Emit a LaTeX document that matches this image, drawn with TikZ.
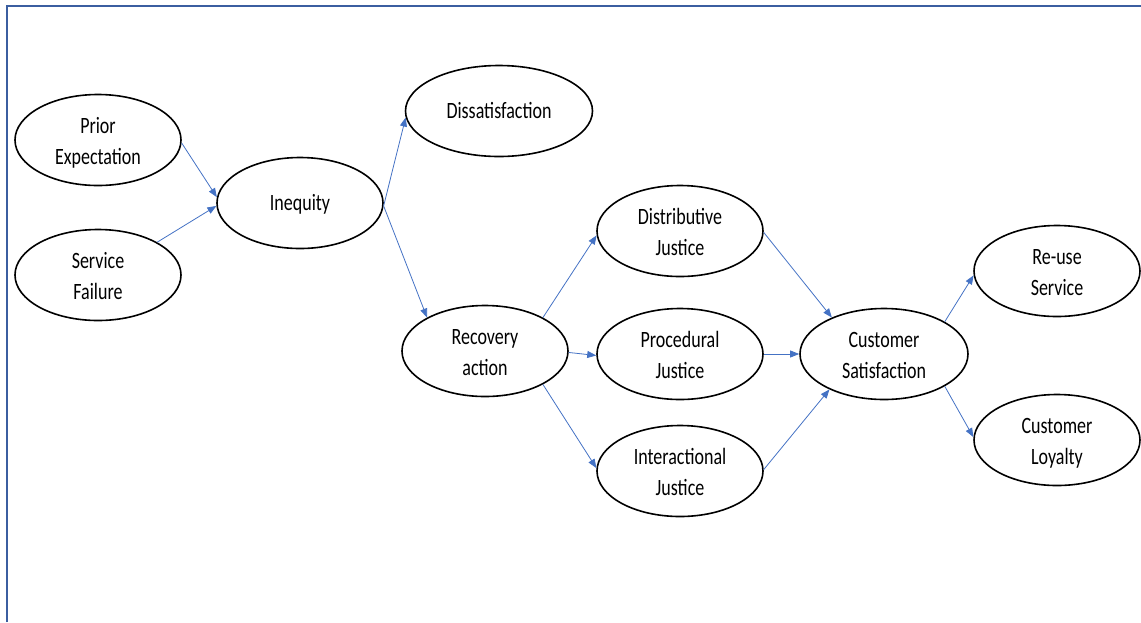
\documentclass[tikz,border=0pt]{standalone}
\usepackage{fontspec}
\setmainfont{Carlito}
\usetikzlibrary{shapes.geometric,arrows.meta}
\definecolor{arrowblue}{RGB}{68,114,196}
\definecolor{frameblue}{RGB}{59,94,160}
\newcommand{\lbl}[2][-3pt]{\raisebox{#1}[\height][\depth]{\scalebox{1}[1.3]{\begin{tabular}{@{}c@{}}#2\end{tabular}}}}
\tikzset{
  ell/.style={ellipse, draw=black, line width=1.6pt, minimum width=166pt, minimum height=91pt, inner sep=0pt, font=\fontsize{18}{24}\selectfont},
  arr/.style={draw=arrowblue, line width=0.8pt, -{Triangle[length=9pt,width=7pt]}}
}
\begin{document}
\begin{tikzpicture}[x=1pt,y=-1pt]
\useasboundingbox (0,0) rectangle (1141,622);
\draw[frameblue, line width=2pt] (6.5,622) -- (6.5,6) -- (1141,6);
\node[ell] (pe) at (98,140) {\lbl{Prior\\Expectation}};
\node[ell] (sf) at (98,275) {\lbl{Service\\Failure}};
\node[ell] (iq) at (300,203) {\lbl[-1pt]{Inequity}};
\node[ell, minimum width=187pt] (ds) at (499,111) {\lbl[-1pt]{Dissatisfaction}};
\node[ell] (ra) at (485,351) {\lbl{Recovery\\action}};
\node[ell] (dj) at (680,231) {\lbl{Distributive\\Justice}};
\node[ell] (pj) at (680,354) {\lbl{Procedural\\Justice}};
\node[ell] (ij) at (680,471) {\lbl{Interactional\\Justice}};
\node[ell, minimum width=168pt] (cs) at (884,354) {\lbl{Customer\\Satisfaction}};
\node[ell] (rs) at (1057,271) {\lbl{Re-use\\Service}};
\node[ell] (cl) at (1057,440) {\lbl{Customer\\Loyalty}};
\draw[arr] (pe.-2) -- (iq.176);
\draw[arr] (sf.29) -- (iq.182);
\draw[arr] (iq.-2) -- (ds.184);
\draw[arr] (iq.-2) -- (ra.150);
\draw[arr] (ra.30) -- (dj.183);
\draw[arr] (ra.-1) -- (pj.181);
\draw[arr] (ra.-30) -- (ij.178);
\draw[arr] (dj.-1) -- (cs.145);
\draw[arr] (pj.east) -- (cs.west);
\draw[arr] (ij.1) -- (cs.213);
\draw[arr] (cs.28) -- (rs.183);
\draw[arr] (cs.-28) -- (cl.178);
\end{tikzpicture}
\end{document}
